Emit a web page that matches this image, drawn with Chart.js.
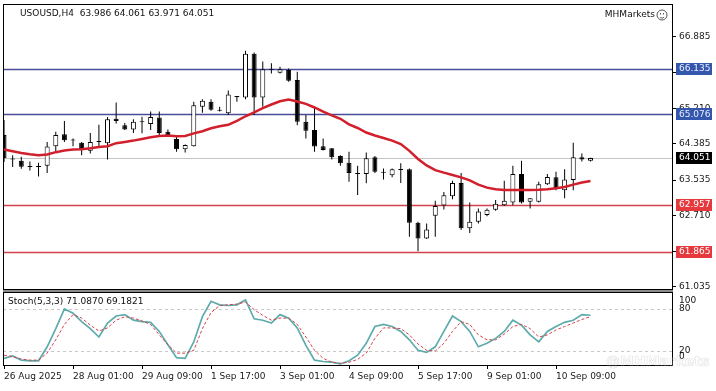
<!DOCTYPE html>
<html>
<head>
<meta charset="utf-8">
<script src="https://cdn.jsdelivr.net/npm/chart.js@4.4.0/dist/chart.umd.min.js"></script>
<style>
  html, body { margin: 0; padding: 0; background: #fff; }
  #wrap { position: relative; width: 716px; height: 391px; overflow: hidden; }
  #priceChart { position: absolute; left: 0; top: 0; }
  #stochChart { position: absolute; left: 0; top: 290px; }
</style>
</head>
<body>
<div id="wrap">
  <canvas id="priceChart" width="716" height="290"></canvas>
  <canvas id="stochChart" width="716" height="101"></canvas>
</div>
<script>
// H4 candles, oldest first
const opens  = [64.59, 64.04, 63.99, 63.86, 63.84, 63.87, 64.33, 64.61, 64.48, 64.41,
                64.22, 64.43, 64.40, 64.97, 64.82, 64.72, 64.89, 64.85, 65.00, 64.67,
                64.50, 64.26, 64.33, 65.25, 65.37, 65.16, 65.10, 65.48, 65.47, 66.49,
                65.47, 66.12, 66.05, 66.11, 65.88, 64.90, 64.71, 64.33, 64.28, 64.10,
                63.94, 63.69, 63.68, 64.07, 63.72, 63.65, 63.77, 63.79, 62.54, 62.17,
                62.70, 62.94, 63.16, 63.47, 62.41, 62.56, 62.72, 62.84, 62.95, 63.01,
                63.68, 63.03, 63.03, 63.44, 63.60, 63.30, 63.54, 64.07, 63.986];
const highs  = [64.94, 64.12, 64.08, 63.97, 63.94, 64.43, 64.67, 64.92, 64.51, 64.43,
                64.64, 64.83, 65.01, 65.35, 64.87, 64.96, 65.02, 65.14, 65.14, 64.72,
                64.55, 64.37, 65.37, 65.43, 65.43, 65.25, 65.63, 65.50, 66.56, 66.52,
                66.31, 66.27, 66.19, 66.15, 66.07, 65.06, 65.25, 64.51, 64.29, 64.12,
                64.20, 63.87, 64.18, 64.10, 63.81, 63.81, 63.93, 63.81, 62.56, 62.52,
                63.05, 63.26, 63.52, 63.70, 63.01, 62.87, 62.87, 63.07, 63.52, 63.87,
                63.99, 63.11, 63.50, 63.68, 63.73, 63.79, 64.41, 64.16, 64.061];
const lows   = [63.96, 63.84, 63.80, 63.76, 63.62, 63.70, 64.20, 64.43, 64.33, 64.12,
                64.16, 64.33, 64.02, 64.86, 64.71, 64.64, 64.63, 64.71, 64.55, 64.58,
                64.20, 64.18, 64.32, 65.11, 65.16, 65.14, 65.06, 65.37, 65.43, 65.06,
                65.25, 66.03, 66.03, 65.84, 64.82, 64.51, 64.20, 64.23, 64.02, 63.87,
                63.50, 63.19, 63.46, 63.70, 63.55, 63.60, 63.47, 62.21, 61.87, 62.16,
                62.21, 62.85, 63.09, 62.37, 62.30, 62.52, 62.69, 62.82, 62.93, 62.95,
                62.99, 62.87, 63.01, 63.42, 63.30, 63.11, 63.30, 63.97, 63.971];
const closes = [64.05, 64.02, 63.85, 63.84, 63.86, 64.32, 64.59, 64.47, 64.46, 64.24,
                64.43, 64.44, 64.96, 64.92, 64.72, 64.90, 64.91, 65.01, 64.64, 64.59,
                64.26, 64.36, 65.29, 65.39, 65.18, 65.17, 65.54, 65.49, 66.49, 65.47,
                66.13, 66.14, 66.13, 65.86, 64.90, 64.69, 64.32, 64.24, 64.07, 63.93,
                63.70, 63.68, 64.05, 63.73, 63.71, 63.79, 63.78, 62.54, 62.17, 62.38,
                62.93, 63.18, 63.47, 62.41, 62.56, 62.80, 62.84, 62.98, 63.05, 63.68,
                63.01, 63.11, 63.44, 63.61, 63.34, 63.55, 64.07, 64.02, 64.051];
const movingAvg = [64.25, 64.21, 64.17, 64.14, 64.12, 64.135, 64.19, 64.23, 64.25, 64.26,
                64.28, 64.31, 64.33, 64.40, 64.43, 64.46, 64.50, 64.54, 64.57, 64.58,
                64.56, 64.57, 64.63, 64.68, 64.75, 64.795, 64.83, 64.92, 65.03, 65.12,
                65.22, 65.305, 65.38, 65.42, 65.375, 65.32, 65.235, 65.14, 65.05, 64.97,
                64.84, 64.755, 64.65, 64.58, 64.52, 64.46, 64.38, 64.22, 64.03, 63.88,
                63.77, 63.71, 63.655, 63.60, 63.53, 63.43, 63.36, 63.32, 63.305, 63.305,
                63.305, 63.305, 63.31, 63.32, 63.345, 63.375, 63.43, 63.48, 63.515];
const stochMain = [9.5, 13, 7, 6, 6, 26, 52, 80, 74, 62,
                52, 40, 60, 70, 72, 64, 62, 61, 48, 29,
                10.5, 9.5, 33, 69, 91, 86, 85, 86, 93, 66,
                64, 60, 72, 67, 53, 28, 7, 5, 4, 1.5,
                6, 14, 31, 55, 58, 55, 48, 36, 21, 18,
                26, 48, 70, 62, 48, 26, 31, 38, 48, 64,
                57, 43, 33, 48, 55, 61, 64, 72, 71.087];
const stochSignal = [14, 12, 8.5, 7, 7, 17, 36, 58, 72, 67,
                57, 48.5, 53, 64, 69, 67, 63, 58, 43, 29,
                17, 17, 21, 52, 75, 85, 86, 87, 90, 79,
                71, 64, 67, 67, 58, 40, 21, 9.5, 4, 2.5,
                4, 8, 17, 38, 53, 53, 52, 43, 30, 21,
                20, 31, 48, 62, 58, 43, 36, 36, 44, 55,
                58, 52, 40, 43, 50, 55, 60, 65, 69.1821];

const timeLabels = ['26 Aug 2025', '28 Aug 01:00', '29 Aug 09:00', '1 Sep 17:00', '3 Sep 01:00',
                    '4 Sep 09:00', '5 Sep 17:00', '9 Sep 01:00', '10 Sep 09:00'];
const barsPerLabel = 8;
const priceTicks = [66.885, 66.060, 65.210, 64.385, 63.535, 62.710, 61.870, 61.035];
const blueLevels = [66.135, 65.076];
const redLevels = [62.957, 61.865];
const stochLevels = [80, 20];
const stochAxisLabels = [100, 80, 20, 0];

const FONT = 'DejaVu Sans';
const N = closes.length;
const idx = closes.map((c, i) => i);
const last = N - 1;
const X_MIN = -0.12, X_MAX = 77.45;

const isDoji = i => Math.abs(closes[i] - opens[i]) < 0.025;

// horizontal levels behind the candles
const levelLines = {
  id: 'levelLines',
  beforeDatasetsDraw(chart) {
    const { ctx, chartArea: a, scales: { y } } = chart;
    const line = (v, color, w) => {
      const py = Math.round(y.getPixelForValue(v)) + 0.5;
      ctx.save();
      ctx.strokeStyle = color;
      ctx.lineWidth = w;
      ctx.beginPath();
      ctx.moveTo(a.left, py);
      ctx.lineTo(a.right, py);
      ctx.stroke();
      ctx.restore();
    };
    line(closes[last], '#c4c4c4', 1);
    blueLevels.forEach(v => line(v, '#4a4e98', 1.3));
    redLevels.forEach(v => line(v, '#d3424c', 1.3));
  }
};

const priceDecor = {
  id: 'priceDecor',
  afterDraw(chart) {
    const { ctx, chartArea: a, scales: { y } } = chart;
    ctx.save();
    ctx.strokeStyle = '#000';
    ctx.lineWidth = 1;
    ctx.strokeRect(a.left + 0.5, a.top - 0.5, a.right - a.left, a.bottom - a.top + 1);

    ctx.font = '9px "' + FONT + '"';
    ctx.fillStyle = '#111';
    ctx.textBaseline = 'middle';
    ctx.textAlign = 'left';
    ctx.fillText('USOUSD,H4  ' + [opens[last], highs[last], lows[last], closes[last]].map(v => v.toFixed(3)).join(' '), 20, 14);
    ctx.textAlign = 'right';
    ctx.fillText('MHMarkets', 655, 15);

    // little smiley next to the broker name
    ctx.strokeStyle = '#555';
    ctx.beginPath(); ctx.arc(662, 15, 5, 0, Math.PI * 2); ctx.stroke();
    ctx.beginPath(); ctx.arc(662, 15.5, 2.6, 0.2 * Math.PI, 0.8 * Math.PI); ctx.stroke();
    ctx.fillStyle = '#555';
    ctx.fillRect(660, 13, 1, 1.5); ctx.fillRect(663, 13, 1, 1.5);

    const box = (v, bg, fg) => {
      const py = y.getPixelForValue(v);
      ctx.fillStyle = bg;
      ctx.fillRect(676, Math.round(py) - 6, 36, 12);
      ctx.fillStyle = fg;
      ctx.textAlign = 'left';
      ctx.fillText(v.toFixed(3), 679, py);
    };
    blueLevels.forEach(v => box(v, '#3556ad', '#e8eeff'));
    box(closes[last], '#000', '#fff');
    redLevels.forEach(v => box(v, '#e5393e', '#fff'));
    ctx.restore();
  }
};

new Chart(document.getElementById('priceChart'), {
  type: 'bar',
  data: {
    datasets: [
      {
        type: 'line',
        data: idx.map(i => ({ x: i, y: movingAvg[i] })),
        borderColor: '#d21f2c',
        borderWidth: 2.5,
        pointRadius: 0,
        tension: 0,
        order: 0
      },
      {
        data: idx.map(i => ({ x: i, y: [opens[i], closes[i]] })),
        backgroundColor: idx.map(i => (isDoji(i) || closes[i] < opens[i]) ? '#000' : '#fff'),
        borderColor: '#000',
        borderWidth: 1,
        borderSkipped: false,
        barThickness: 5,
        minBarLength: 1,
        inflateAmount: 0,
        grouped: false,
        order: 1
      },
      {
        data: idx.map(i => ({ x: i, y: [lows[i], highs[i]] })),
        backgroundColor: '#000',
        borderWidth: 0,
        barThickness: 1,
        inflateAmount: 0,
        grouped: false,
        order: 2
      }
    ]
  },
  options: {
    responsive: false,
    animation: false,
    devicePixelRatio: 1,
    events: [],
    layout: { padding: { left: 3, top: 5, right: 0, bottom: 1 } },
    plugins: { legend: { display: false }, tooltip: { enabled: false } },
    scales: {
      x: { type: 'linear', min: X_MIN, max: X_MAX, offset: false, grid: { offset: false }, display: false },
      y: {
        position: 'right',
        min: 60.988,
        max: 67.633,
        afterBuildTicks: s => { s.ticks = priceTicks.map(v => ({ value: v })); },
        afterFit: s => { s.width = 44; s.paddingTop = 0; s.paddingBottom = 0; },
        ticks: {
          callback: v => Number(v).toFixed(3),
          font: { family: FONT, size: 9 },
          color: '#1a1a1a',
          padding: 3,
          autoSkip: false
        },
        grid: { drawOnChartArea: false, tickLength: 4, color: '#000' },
        border: { display: false }
      }
    }
  },
  plugins: [levelLines, priceDecor]
});

// stochastic panel
const stochDecor = {
  id: 'stochDecor',
  beforeDatasetsDraw(chart) {
    const { ctx, chartArea: a, scales: { y } } = chart;
    ctx.save();
    ctx.strokeStyle = '#c8c8c8';
    ctx.lineWidth = 1;
    ctx.setLineDash([3, 3]);
    stochLevels.forEach(v => {
      const py = Math.round(y.getPixelForValue(v)) + 0.5;
      ctx.beginPath();
      ctx.moveTo(a.left, py);
      ctx.lineTo(a.right, py);
      ctx.stroke();
    });
    ctx.restore();
  },
  afterDraw(chart) {
    const { ctx, chartArea: a, scales: { y } } = chart;
    ctx.save();
    ctx.fillStyle = '#8c8c8c';
    ctx.fillRect(a.left, 0, a.right - a.left + 1, 2);
    ctx.strokeStyle = '#000';
    ctx.lineWidth = 1;
    ctx.strokeRect(a.left + 0.5, a.top + 0.5, a.right - a.left, a.bottom - a.top);

    ctx.font = '9px "' + FONT + '"';
    ctx.fillStyle = '#111';
    ctx.textBaseline = 'middle';
    ctx.textAlign = 'left';
    ctx.fillText('Stoch(5,3,3) ' + stochMain[last].toFixed(4) + ' ' + stochSignal[last].toFixed(4), 8, 12);

    stochAxisLabels.forEach(v => {
      let py = y.getPixelForValue(v);
      py = Math.min(Math.max(py, a.top + 8.5), a.bottom - 8.5);
      ctx.fillText(String(v), 679, py);
    });

    ctx.font = 'bold 14px "' + FONT + '"';
    ctx.strokeStyle = 'rgba(190,190,190,0.4)';
    ctx.lineWidth = 0.7;
    ctx.strokeText('@MHMarkets', 606, 72);
    ctx.restore();
  }
};

new Chart(document.getElementById('stochChart'), {
  type: 'line',
  data: {
    datasets: [
      {
        data: idx.map(i => ({ x: i, y: stochSignal[i] })),
        borderColor: '#d2424c',
        borderWidth: 1,
        borderDash: [3, 2],
        pointRadius: 0,
        tension: 0
      },
      {
        data: idx.map(i => ({ x: i, y: stochMain[i] })),
        borderColor: '#5eabab',
        borderWidth: 1.7,
        pointRadius: 0,
        tension: 0
      }
    ]
  },
  options: {
    responsive: false,
    animation: false,
    devicePixelRatio: 1,
    events: [],
    layout: { padding: { left: 3, top: 2, right: 44, bottom: 0 } },
    plugins: { legend: { display: false }, tooltip: { enabled: false } },
    scales: {
      x: {
        type: 'linear',
        min: X_MIN,
        max: X_MAX,
        position: 'bottom',
        afterBuildTicks: s => { s.ticks = timeLabels.map((t, k) => ({ value: k * barsPerLabel })); },
        afterFit: s => { s.height = 26; s.paddingLeft = 0; s.paddingRight = 0; },
        ticks: {
          callback: v => timeLabels[Math.round(v / barsPerLabel)],
          align: 'start',
          maxRotation: 0,
          autoSkip: false,
          font: { family: FONT, size: 9 },
          color: '#1a1a1a',
          padding: 2
        },
        grid: { drawOnChartArea: false, tickLength: 4, color: '#000' },
        border: { display: false }
      },
      y: { min: 0, max: 104.3, display: false }
    }
  },
  plugins: [stochDecor]
});
</script>
</body>
</html>
